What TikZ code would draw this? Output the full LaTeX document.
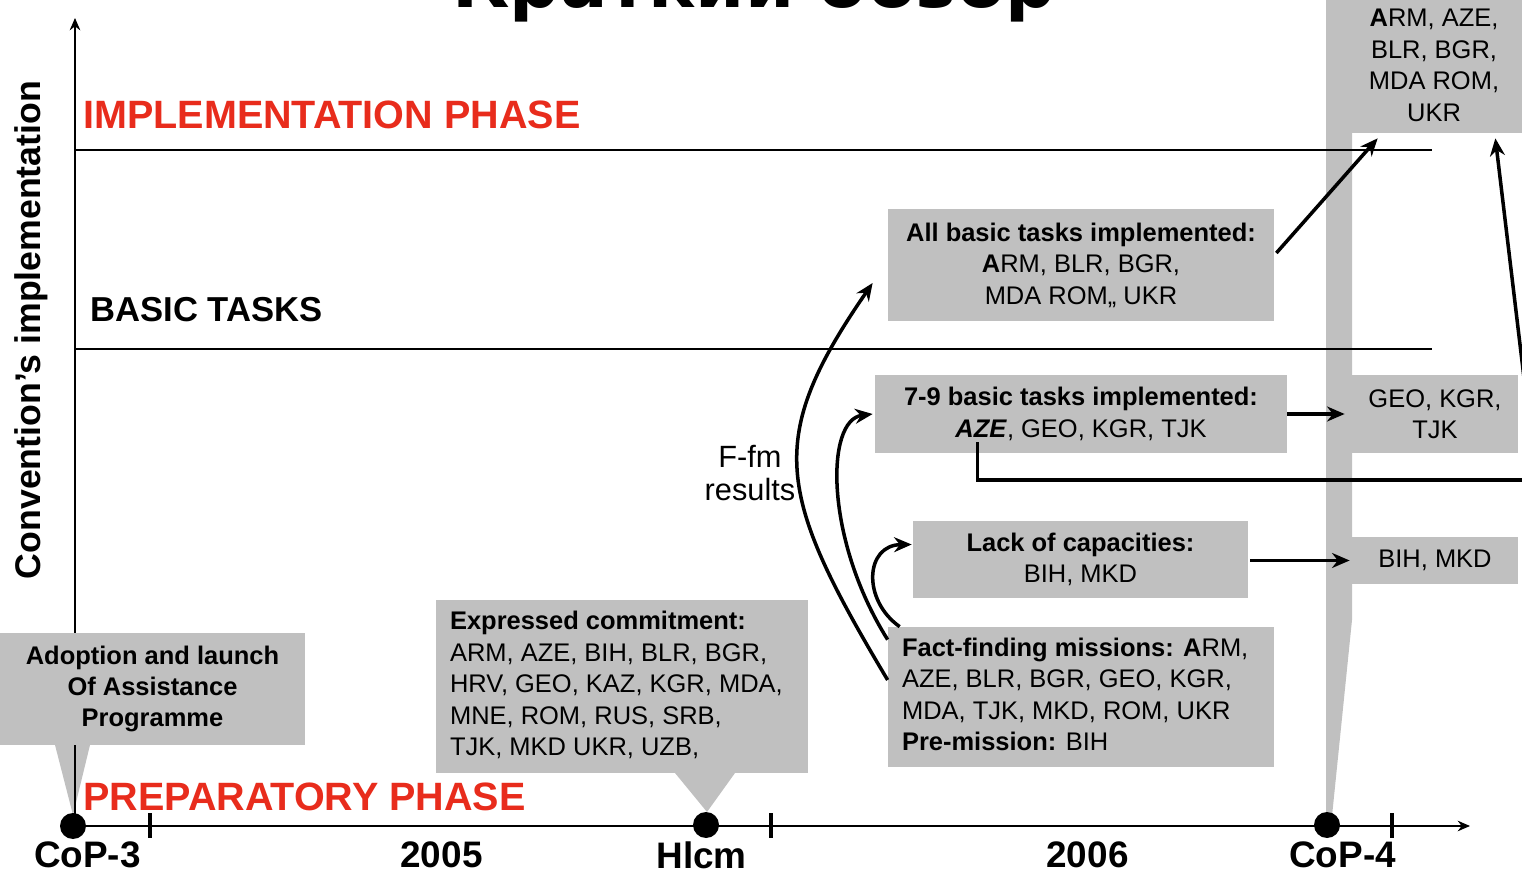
\documentclass[tikz,border=0pt]{standalone}
\usepackage{fontspec}
\setmainfont{Liberation Sans}
\newfontfamily\titlefont{DejaVu Sans}
\usetikzlibrary{arrows.meta,calc}
\definecolor{boxgray}{RGB}{192,192,192}
\definecolor{phasered}{RGB}{232,44,28}
\def\PX{0.02cm}
\newcommand\bodyfont{\fontsize{14.5}{17.9}\selectfont}
\begin{document}
\begin{tikzpicture}[x=0.02cm,y=-0.02cm,
  box/.style={fill=boxgray, draw=none, inner sep=0pt, font=\bodyfont, align=center},
  arr/.style={line width=2pt, -{Stealth[length=10pt,width=8.5pt]}},
  thickline/.style={line width=2pt},
  axis/.style={line width=1.1pt, -{Stealth[length=7pt,width=6pt]}},
  divider/.style={line width=0.9pt},
  tickmark/.style={line width=2.2pt},
  dot/.style={circle, fill=black, inner sep=0pt, minimum size=26*\PX},
  redlabel/.style={text=phasered, font=\fontsize{22.5}{27}\selectfont\bfseries, inner sep=0pt, anchor=west},
  axislabel/.style={font=\fontsize{21}{25}\selectfont\bfseries, inner sep=0pt}]
\useasboundingbox (0,0) rectangle (1522,874);
\clip (0,0) rectangle (1522,874);

% title (cut off at top)
\node[font=\titlefont\bfseries\fontsize{40}{48}\selectfont, anchor=base, inner sep=0pt] (title) at (754,8) {Краткий обзор};

% callout pointers and band
\fill[boxgray] (1326,-5) -- (1352,-5) -- (1352,620) -- (1331,826) -- (1326,826) -- cycle;
\fill[boxgray] (55,745) -- (90,745) -- (73,815) -- cycle;
\fill[boxgray] (675,773) -- (735,773) -- (707,812) -- cycle;

% axes
\coordinate (yorig) at (75,826);
\coordinate (ytop) at (75,18);
\coordinate (xend) at (1470,826);
\draw[axis] (yorig) -- (ytop);

% dividers
\coordinate (d1a) at (75,150); \coordinate (d1b) at (1432,150);
\coordinate (d2a) at (75,349); \coordinate (d2b) at (1432,349);
\draw[divider] (d1a) -- (d1b);
\draw[divider] (d2a) -- (d2b);

% vertical label
\node[rotate=90, font=\fontsize{20.3}{24}\selectfont\bfseries, inner sep=0pt] (ylab) at (31,330) {Convention's implementation};

% phase labels
\node[redlabel] (impl) at (83,115) {IMPLEMENTATION PHASE};
\node[font=\fontsize{19.7}{23}\selectfont\bfseries, inner sep=0pt, anchor=west] (basic) at (90,310) {BASIC TASKS};
\node[redlabel] (prep) at (83,797) {PREPARATORY PHASE};

% boxes
\node[box, font=\bodyfont\bfseries, minimum width=305*\PX, minimum height=112*\PX] (adopt) at (152.5,689) {Adoption and launch\\Of Assistance\\Programme};
\node[box, minimum width=372*\PX, minimum height=173*\PX] (expr) at (622,686.5) {\makebox[6.88cm][l]{\begin{tabular}{@{}l@{}}\textbf{Expressed commitment:}\\ARM, AZE, BIH, BLR, BGR,\\HRV, GEO, KAZ, KGR, MDA,\\MNE, ROM, RUS, SRB,\\TJK, MKD UKR, UZB,\end{tabular}}};
\node[box, minimum width=386*\PX, minimum height=112*\PX] (allb) at (1081,265) {\textbf{All basic tasks implemented:}\\\textbf{A}RM, BLR, BGR,\\MDA ROM,, UKR};
\node[box, minimum width=412*\PX, minimum height=78*\PX] (b79) at (1081,414) {\textbf{7-9 basic tasks implemented:}\\\textbf{\textit{AZE}}, GEO, KGR, TJK};
\node[box, minimum width=335*\PX, minimum height=77*\PX] (lack) at (1080.5,559.5) {\textbf{Lack of capacities:}\\BIH, MKD};
\node[box, minimum width=386*\PX, minimum height=140*\PX] (ffm) at (1081,697) {\makebox[7.16cm][l]{\begin{tabular}{@{}l@{}}\textbf{Fact-finding missions: A}RM,\\AZE, BLR, BGR, GEO, KGR,\\MDA, TJK, MKD, ROM, UKR\\\textbf{Pre-mission:} BIH\end{tabular}}};
\node[box, minimum width=176*\PX, minimum height=135*\PX] (topb) at (1434,65.5) {\textbf{A}RM, AZE,\\BLR, BGR,\\MDA ROM,\\UKR};
\node[box, minimum width=166*\PX, minimum height=78*\PX] (geo) at (1435,414) {GEO, KGR,\\TJK};
\node[box, minimum width=166*\PX, minimum height=47*\PX] (bih) at (1435,560.5) {BIH, MKD};

% F-fm results label
\node[font=\fontsize{17.5}{19.3}\selectfont, align=center, inner sep=0pt] (ffmres) at (750,473) {F-fm\\results};

% curved arrows from fact-finding missions
\draw[arr] ($(ffm.west)+(0,-17)$) .. controls (776,493) and (765,439) .. ($(allb.west)+(-15,18)$);
\draw[arr] ($(ffm.north west)+(0,13)$) .. controls (825,540) and (825,420) .. ($(b79.west)+(-2,0)$);
\draw[arr] ($(ffm.north west)+(12,0)$) .. controls (862,600) and (865,545) .. ($(lack.west)+(-1,-15)$);

% straight arrows
\draw[arr] ($(allb.east)+(2,-12)$) -- ($(topb.south west)+(32,5)$);
\coordinate (rc1) at (1524,378);
\draw[arr] (rc1) -- ($(topb.south east)+(-27,5)$);
\draw[arr] (b79.east) -- ($(geo.west)+(-7,0)$);
\draw[arr] ($(lack.east)+(2,1)$) -- ($(bih.west)+(-2,0)$);
\coordinate (rc2) at (1524,480);
\draw[thickline] (rc2) -| ($(b79.south west)+(103,-11)$);

% time axis
\node[dot] (cop3) at (73,826) {};
\node[dot] (hlcm) at (706,825) {};
\node[dot] (cop4) at (1327,825) {};
\draw[axis] (cop3.center) -- (xend);
\coordinate (t1a) at (150,813); \coordinate (t1b) at (150,838);
\coordinate (t2a) at (771,813); \coordinate (t2b) at (771,838);
\coordinate (t3a) at (1392,813); \coordinate (t3b) at (1392,838);
\draw[tickmark] (t1a) -- (t1b);
\draw[tickmark] (t2a) -- (t2b);
\draw[tickmark] (t3a) -- (t3b);

\node[axislabel] (lcop3) at (87.5,855) {CoP-3};
\node[axislabel] (l2005) at (441.5,855) {2005};
\node[axislabel] (lhlcm) at (701.5,855) {Hlcm};
\node[axislabel] (l2006) at (1087.5,855) {2006};
\node[axislabel] (lcop4) at (1342.5,855) {CoP-4};
\end{tikzpicture}
\end{document}
